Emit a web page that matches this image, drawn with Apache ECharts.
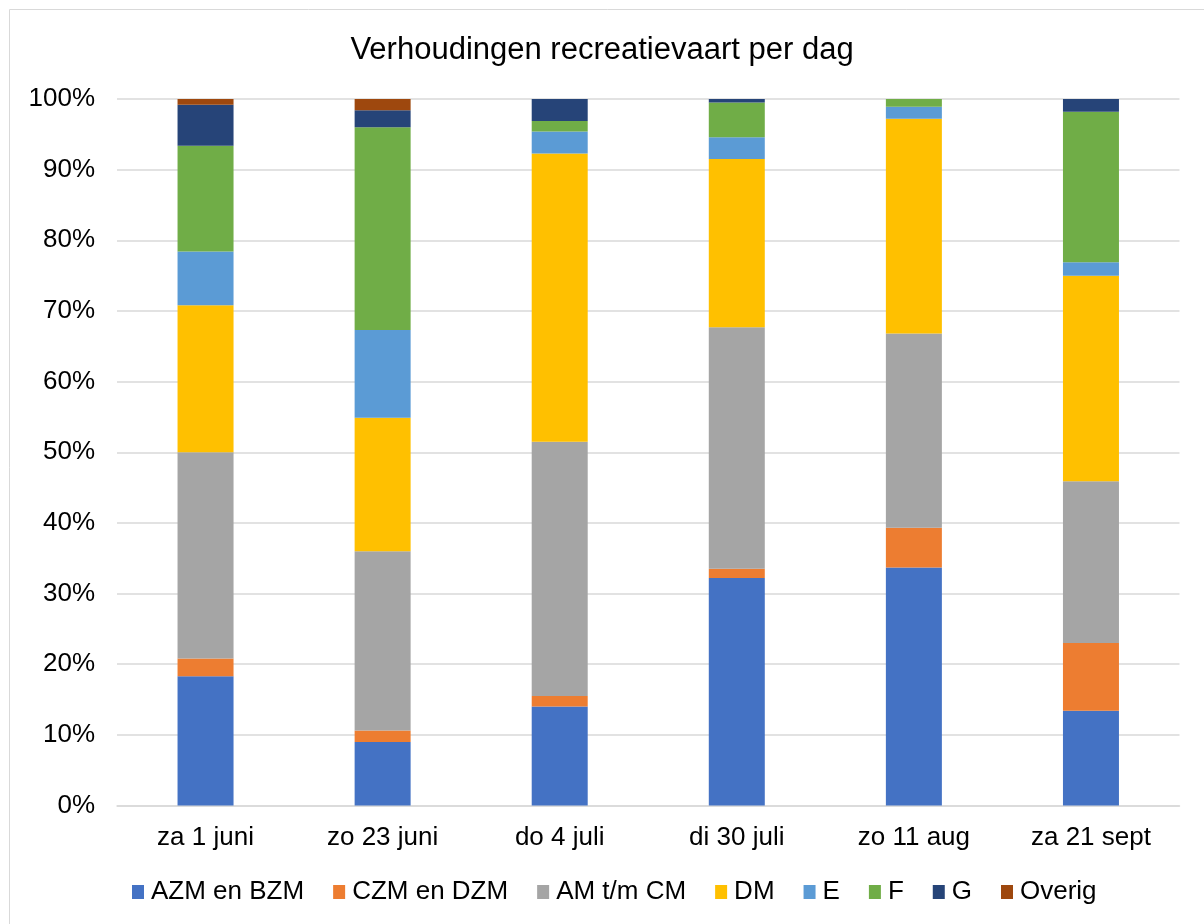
<!DOCTYPE html>
<html>
<head>
<meta charset="utf-8">
<script src="https://cdn.jsdelivr.net/npm/echarts@6/dist/echarts.min.js"></script>
<style>
  html, body { margin: 0; padding: 0; background: #fff; }
  #chart { width: 1204px; height: 924px; }
</style>
</head>
<body>
<div id="chart"></div>
<script>
  // dagen
  const categories = ['za 1 juni', 'zo 23 juni', 'do 4 juli', 'di 30 juli', 'zo 11 aug', 'za 21 sept'];
  // aandelen per klasse, in procenten
  const azmBzm = [18.3, 9.0, 14.0, 32.2, 33.7, 13.4];
  const czmDzm = [2.5, 1.6, 1.5, 1.3, 5.6, 9.6];
  const amCm   = [29.2, 25.4, 36.0, 34.2, 27.5, 22.9];
  const dm     = [20.8, 18.9, 40.8, 23.8, 30.4, 29.1];
  const e      = [7.6, 12.4, 3.1, 3.1, 1.7, 1.9];
  const f      = [15.0, 28.7, 1.5, 4.9, 1.1, 21.3];
  const g      = [5.8, 2.4, 3.1, 0.5, 0, 1.8];
  const overig = [0.8, 1.6, 0, 0, 0, 0];

  const font = '"Liberation Sans", Arial, sans-serif';

  const chart = echarts.init(document.getElementById('chart'));

  const mk = (name, data, color) => ({
    name: name,
    type: 'bar',
    stack: 'totaal',
    barWidth: 56,
    itemStyle: { color: color },
    emphasis: { disabled: true },
    data: data
  });

  chart.setOption({
    animation: false,
    textStyle: { fontFamily: font },
    title: {
      text: 'Verhoudingen recreatievaart per dag',
      left: 'center',
      top: 30,
      textStyle: { fontFamily: font, fontSize: 31, fontWeight: 'normal', color: '#000' }
    },
    graphic: [{
      type: 'rect',
      shape: { x: 9.5, y: 9.5, width: 1300, height: 1000 },
      style: { fill: 'none', stroke: '#d9d9d9', lineWidth: 1 },
      silent: true
    }],
    legend: {
      bottom: 14,
      left: 127,
      itemWidth: 12,
      itemHeight: 14,
      itemGap: 29,
      icon: 'rect',
      textStyle: { fontFamily: font, fontSize: 26, color: '#000', padding: [0, 0, 0, 2] },
      data: ['AZM en BZM', 'CZM en DZM', 'AM t/m CM', 'DM', 'E', 'F', 'G', 'Overig']
    },
    grid: { left: 117, right: 24.5, top: 99, bottom: 118.5 },
    xAxis: {
      type: 'category',
      data: categories,
      axisLine: { lineStyle: { color: '#d9d9d9', width: 1.5 } },
      axisTick: { show: false },
      axisLabel: { fontFamily: font, fontSize: 26, color: '#000', margin: 19 }
    },
    yAxis: {
      type: 'value',
      min: 0,
      max: 100,
      interval: 10,
      axisLine: { show: false },
      axisTick: { show: false },
      splitLine: { lineStyle: { color: '#d9d9d9', width: 1.5 } },
      axisLabel: { fontFamily: font, fontSize: 26, color: '#000', margin: 22, formatter: '{value}%' }
    },
    series: [
      mk('AZM en BZM', azmBzm, '#4472c4'),
      mk('CZM en DZM', czmDzm, '#ed7d31'),
      mk('AM t/m CM', amCm, '#a5a5a5'),
      mk('DM', dm, '#ffc000'),
      mk('E', e, '#5b9bd5'),
      mk('F', f, '#70ad47'),
      mk('G', g, '#264478'),
      mk('Overig', overig, '#9e480e')
    ]
  });
</script>
</body>
</html>
